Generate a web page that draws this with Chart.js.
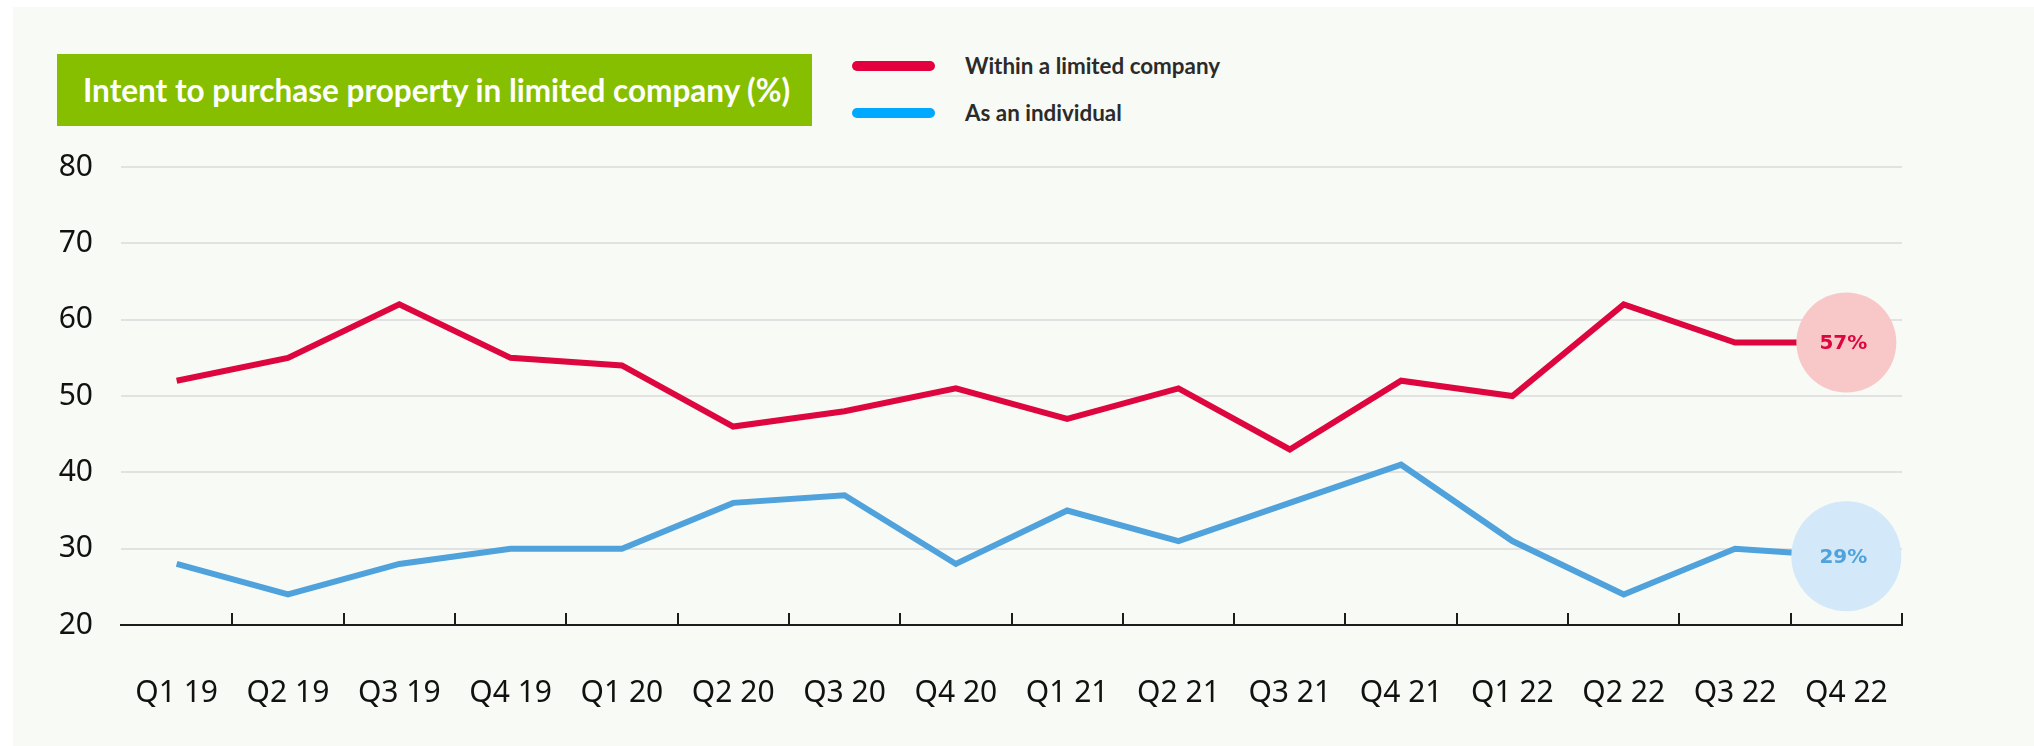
<!DOCTYPE html>
<html>
<head>
<meta charset="utf-8">
<script src="https://cdn.jsdelivr.net/npm/chart.js@4.4.1/dist/chart.umd.min.js"></script>
<style>
  html, body { margin: 0; padding: 0; background: #ffffff; width: 2034px; height: 746px; overflow: hidden; }
  #panel { position: absolute; left: 13px; top: 7px; right: 0; bottom: 0; background: #f8fbf5; }
  #title { position: absolute; left: 57px; top: 54px; width: 755px; height: 72px; background: #85bf00; color: #ffffff;
           font: 700 31.5px Lato, sans-serif; line-height: 72px; padding-left: 26px; box-sizing: border-box; white-space: nowrap; }
  .mark { position: absolute; left: 852px; width: 83px; height: 10px; border-radius: 5px; }
  .legtxt { position: absolute; left: 965px; font: 700 22.4px Lato, sans-serif; color: #2b2b2b; line-height: 26px; white-space: nowrap; }
  #chart { position: absolute; left: 0; top: 0; }
</style>
</head>
<body>
<div id="panel"></div>
<div id="title">Intent to purchase property in limited company (%)</div>
<div class="mark" id="m1" style="top:61px;"></div>
<div class="legtxt" id="t1" style="top:53px;"></div>
<div class="mark" id="m2" style="top:108px;"></div>
<div class="legtxt" id="t2" style="top:100px;"></div>
<canvas id="chart" width="2034" height="746"></canvas>
<script>
const categories = ['Q1 19','Q2 19','Q3 19','Q4 19','Q1 20','Q2 20','Q3 20','Q4 20',
                    'Q1 21','Q2 21','Q3 21','Q4 21','Q1 22','Q2 22','Q3 22','Q4 22'];
const withinCompany = [52,55,62,55,54,46,48,51,47,51,43,52,50,62,57,57];
const asIndividual  = [28,24,28,30,30,36,37,28,35,31,36,41,31,24,30,29];
const yTicks = [20,30,40,50,60,70,80];
const seriesNames = ['Within a limited company','As an individual'];

const lineColors = ['#de063e', '#4fa2db'];
const legendColors = ['#e4003f', '#00a8ff'];
const bubbleColors = ['#f8c8c9', '#d3e8f8'];
const bubbleRadii = [50, 55];

document.getElementById('t1').textContent = seriesNames[0];
document.getElementById('t2').textContent = seriesNames[1];
document.getElementById('m1').style.background = legendColors[0];
document.getElementById('m2').style.background = legendColors[1];

const decor = {
  id: 'decor',
  afterDatasetsDraw(chart) {
    const ctx = chart.ctx;
    const xs = chart.scales.x;
    const bottom = chart.chartArea.bottom;
    ctx.save();
    ctx.strokeStyle = '#1c1c1c';
    ctx.lineWidth = 2;
    for (let i = 0; i < categories.length; i++) {
      const px = Math.round(xs.getPixelForValue(i + 0.5));
      ctx.beginPath();
      ctx.moveTo(px, bottom);
      ctx.lineTo(px, bottom - 12);
      ctx.stroke();
    }
    chart.data.datasets.forEach((ds, di) => {
      const meta = chart.getDatasetMeta(di);
      const pt = meta.data[meta.data.length - 1];
      ctx.fillStyle = lineColors[di];
      ctx.font = 'bold 20px "DejaVu Sans", sans-serif';
      ctx.textAlign = 'center';
      ctx.textBaseline = 'middle';
      ctx.fillText(ds.data[ds.data.length - 1] + '%', pt.x - 3, pt.y + 1);
    });
    ctx.restore();
  }
};

function makeDataset(name, data, i) {
  const last = data.length - 1;
  return {
    label: name,
    data: data,
    borderColor: lineColors[i],
    borderWidth: 6,
    tension: 0,
    fill: false,
    borderJoinStyle: 'miter',
    pointRadius: c => c.dataIndex === last ? bubbleRadii[i] : 0,
    pointHoverRadius: c => c.dataIndex === last ? bubbleRadii[i] : 0,
    pointBackgroundColor: bubbleColors[i],
    pointBorderWidth: 0,
    pointBorderColor: 'transparent'
  };
}

new Chart(document.getElementById('chart'), {
  type: 'line',
  data: {
    labels: categories,
    datasets: [makeDataset(seriesNames[0], withinCompany, 0), makeDataset(seriesNames[1], asIndividual, 1)]
  },
  options: {
    responsive: false,
    devicePixelRatio: 1,
    animation: false,
    events: [],
    layout: { padding: { top: 167, right: 132, bottom: 0, left: 0 } },
    plugins: { legend: { display: false }, tooltip: { enabled: false } },
    scales: {
      x: {
        offset: true,
        grid: { display: false, drawTicks: false },
        border: { display: true, color: '#1c1c1c', width: 2 },
        ticks: { padding: 50, color: '#111111', font: { family: 'Noto Sans', size: 30 }, maxRotation: 0, autoSkip: false },
        afterFit: s => { s.height = 121; }
      },
      y: {
        min: yTicks[0],
        max: yTicks[yTicks.length - 1],
        afterBuildTicks: s => { s.ticks = yTicks.map(v => ({ value: v })); },
        grid: { color: c => c.tick && c.tick.value === yTicks[0] ? 'transparent' : '#e2e2e2', lineWidth: 2, drawTicks: false },
        border: { display: false },
        ticks: { padding: 28, color: '#111111', font: { family: 'Noto Sans', size: 30 } },
        afterFit: s => { s.width = 121; }
      }
    }
  },
  plugins: [decor]
});
</script>
</body>
</html>
